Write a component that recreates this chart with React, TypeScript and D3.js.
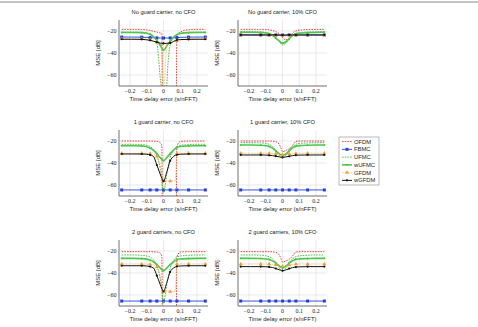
import * as d3 from 'd3'

const W = 478
const H = 327

// time delay error grid (s/nFFT) and the points that carry markers
const delay = [-0.25, -0.19, -0.13, -0.1, -0.08, -0.06, -0.04, -0.02, -0.01, 0, 0.02, 0.04, 0.06, 0.07, 0.08, 0.1, 0.15, 0.2, 0.25]
const markIdx = [0, 2, 4, 6, 9, 11, 14, 16, 18]
const xTicks = [-0.2, -0.1, 0, 0.1, 0.2]
const yTicks = [-20, -40, -60]
const seriesNames = ['OFDM', 'FBMC', 'UFMC', 'wUFMC', 'GFDM', 'wGFDM']
const panelTitles = [
  'No guard carrier, no CFO',
  'No guard carrier, 10% CFO',
  '1 guard carrier, no CFO',
  '1 guard carrier, 10% CFO',
  '2 guard carriers, no CFO',
  '2 guard carriers, 10% CFO',
]

// MSE [dB]; -300 stands for "perfect" (off the bottom of the axis)
const A_OFDM = [-18.5, -18.5, -18.6, -19, -19.5, -20.3, -21, -21.8, -22.3, -300, -300, -300, -300, -300, -23.5, -21, -18.8, -18.5, -18.5]
const A_FBMC = [-25.5, -25.5, -25.6, -25.8, -26, -26.2, -26.3, -26.4, -26.4, -26.4, -26.4, -26.3, -26.2, -26.1, -26, -25.8, -25.6, -25.5, -25.5]
const A_UFMC = [-21, -21, -21.3, -22, -23, -25.5, -31, -62, -80, -300, -70, -33, -26, -24.5, -23.5, -22.3, -21.3, -21, -21]
const A_wUFMC = [-21.3, -21.3, -21.5, -22, -23, -25, -28.5, -33, -35.5, -37.5, -33.5, -29, -25.5, -24.3, -23.3, -22.3, -21.5, -21.3, -21.3]
const A_GFDM = [-27, -27, -27.2, -27.5, -28, -29, -30, -31, -35, -80, -32, -31, -30, -29.5, -29, -28, -27.3, -27, -27]
const A_wGFDM = [-27.5, -27.5, -27.6, -28, -28.5, -29.3, -30.2, -31, -31.2, -31.3, -31.2, -30.8, -29.5, -28.7, -28.2, -27.8, -27.6, -27.5, -27.5]

const B_OFDM = [-18.5, -18.5, -18.5, -18.7, -19, -19.6, -20.5, -22.5, -24, -26, -28, -27, -22, -20.5, -20, -19.3, -18.7, -18.5, -18.5]
const B_FBMC = [-23.6, -23.6, -23.6, -23.6, -23.6, -23.6, -23.6, -23.7, -23.7, -23.7, -23.7, -23.6, -23.6, -23.6, -23.6, -23.6, -23.6, -23.6, -23.6]
const B_UFMC = [-20.6, -20.6, -20.8, -21.3, -22, -23.5, -26, -29.5, -31.5, -32.7, -31, -27.5, -24, -23, -22.2, -21.5, -21, -20.7, -20.6]
const B_wUFMC = [-21.2, -21.2, -21.4, -21.8, -22.5, -24, -26.5, -29, -30.3, -31.2, -29.8, -27, -24.3, -23.3, -22.6, -22, -21.5, -21.3, -21.2]
const B_GFDM = [-23.8, -23.8, -23.8, -23.8, -23.8, -23.8, -23.9, -24, -24, -24.1, -24, -23.9, -23.8, -23.8, -23.8, -23.8, -23.8, -23.8, -23.8]
const B_wGFDM = [-23.6, -23.6, -23.6, -23.6, -23.6, -23.6, -23.6, -23.7, -23.7, -23.7, -23.7, -23.6, -23.6, -23.6, -23.6, -23.6, -23.6, -23.6, -23.6]

const C_OFDM = [-20, -20, -20, -20, -20, -20.1, -20.3, -21.5, -24, -300, -300, -300, -300, -300, -25, -20.5, -20, -20, -20]
const C_FBMC = [-64.5, -64.5, -64.5, -64.5, -64.5, -64.5, -64.5, -64.5, -64.5, -64.5, -64.5, -64.5, -64.5, -64.5, -64.5, -64.5, -64.5, -64.5, -64.5]
const C_UFMC = [-23, -23, -23.3, -24, -25, -27.5, -33, -45, -55, -67, -50, -35, -28, -26, -25, -24, -23.3, -23, -23]
const C_wUFMC = [-24.3, -24.3, -24.6, -25.3, -26.5, -28.5, -31.5, -35, -36.7, -37.9, -35, -31.5, -28.3, -27, -26, -25, -24.5, -24.3, -24.3]
const C_GFDM = [-31.2, -31.2, -31.2, -31.3, -31.5, -32, -34, -42, -50, -56.4, -56.4, -56.4, -56.4, -56.4, -31.5, -31.2, -31.2, -31.2, -31.2]
const C_wGFDM = [-31.8, -31.8, -31.8, -32, -32.7, -34, -41.8, -50, -54, -56.5, -48, -38, -34, -33, -32.5, -32, -31.8, -31.8, -31.8]

const D_OFDM = [-20, -20, -20, -20, -20, -20.2, -20.6, -23, -26, -29.7, -28.5, -27, -24, -22, -20.5, -20, -20, -20, -20]
const D_FBMC = [-64.5, -64.5, -64.5, -64.5, -64.5, -64.5, -64.5, -64.5, -64.5, -64.5, -64.5, -64.5, -64.5, -64.5, -64.5, -64.5, -64.5, -64.5, -64.5]
const D_UFMC = [-21.5, -21.5, -21.7, -22.2, -23, -25, -28.5, -33, -35, -35.5, -33, -28.5, -25, -24, -23, -22.3, -21.8, -21.5, -21.5]
const D_wUFMC = [-23.6, -23.6, -23.8, -24.2, -25, -26.5, -29, -31.5, -32.5, -33, -31.8, -29, -26.3, -25.5, -24.8, -24.2, -23.8, -23.6, -23.6]
const D_GFDM = [-31.2, -31.2, -31.2, -31.2, -31.3, -31.4, -31.6, -31.9, -32.1, -32.3, -32, -31.7, -31.5, -31.4, -31.3, -31.2, -31.2, -31.2, -31.2]
const D_wGFDM = [-32.7, -32.7, -32.7, -32.8, -33, -33.3, -33.8, -34.4, -34.7, -34.8, -34.5, -33.9, -33.3, -33.1, -32.9, -32.8, -32.7, -32.7, -32.7]

const E_OFDM = [-20.6, -20.6, -20.6, -20.6, -20.6, -20.7, -20.9, -22, -24.5, -300, -300, -300, -300, -300, -25.5, -21, -20.6, -20.6, -20.6]
const E_FBMC = [-65.5, -65.5, -65.5, -65.5, -65.5, -65.5, -65.5, -65.5, -65.5, -65.5, -65.5, -65.5, -65.5, -65.5, -65.5, -65.5, -65.5, -65.5, -65.5]
const E_UFMC = [-23.6, -23.6, -23.9, -24.5, -25.5, -28, -33.5, -45, -55, -67, -50, -35.5, -28.5, -26.5, -25.5, -24.6, -23.9, -23.6, -23.6]
const E_wUFMC = [-26.7, -26.7, -26.9, -27.4, -28.3, -29.8, -32.3, -35.3, -36.8, -37.9, -35.3, -32.3, -29.8, -28.8, -28, -27.3, -26.9, -26.7, -26.7]
const E_GFDM = [-31.8, -31.8, -31.8, -31.9, -32.1, -32.6, -34.5, -42.5, -50.5, -56.8, -56.8, -56.8, -56.8, -56.8, -32, -31.8, -31.8, -31.8, -31.8]
const E_wGFDM = [-33.4, -33.4, -33.4, -33.6, -34.2, -35.4, -42.3, -50.3, -54.3, -56.8, -48.5, -39, -35.4, -34.5, -34, -33.6, -33.4, -33.4, -33.4]

const F_OFDM = [-20.6, -20.6, -20.6, -20.6, -20.6, -20.8, -21.2, -23.5, -26.5, -30, -29, -27.5, -24.5, -22.5, -21, -20.6, -20.6, -20.6, -20.6]
const F_FBMC = [-65.5, -65.5, -65.5, -65.5, -65.5, -65.5, -65.5, -65.5, -65.5, -65.5, -65.5, -65.5, -65.5, -65.5, -65.5, -65.5, -65.5, -65.5, -65.5]
const F_UFMC = [-23.6, -23.6, -23.8, -24.3, -25.2, -27, -30.5, -35, -37.3, -38.3, -35.5, -30.5, -27, -26, -25.2, -24.5, -23.9, -23.6, -23.6]
const F_wUFMC = [-26.7, -26.7, -26.8, -27.2, -27.8, -29, -31, -33.4, -34.5, -35.3, -33.8, -31, -28.8, -28.1, -27.6, -27.2, -26.9, -26.7, -26.7]
const F_GFDM = [-31.8, -31.8, -31.8, -31.8, -31.9, -32.1, -32.6, -33.3, -33.7, -34, -33.5, -32.8, -32.2, -32, -31.9, -31.8, -31.8, -31.8, -31.8]
const F_wGFDM = [-34.2, -34.2, -34.2, -34.3, -34.5, -35, -35.9, -37, -37.5, -37.9, -37.2, -36, -35.1, -34.8, -34.6, -34.4, -34.2, -34.2, -34.2]

const panelData = [
  [A_OFDM, A_FBMC, A_UFMC, A_wUFMC, A_GFDM, A_wGFDM],
  [B_OFDM, B_FBMC, B_UFMC, B_wUFMC, B_GFDM, B_wGFDM],
  [C_OFDM, C_FBMC, C_UFMC, C_wUFMC, C_GFDM, C_wGFDM],
  [D_OFDM, D_FBMC, D_UFMC, D_wUFMC, D_GFDM, D_wGFDM],
  [E_OFDM, E_FBMC, E_UFMC, E_wUFMC, E_GFDM, E_wGFDM],
  [F_OFDM, F_FBMC, F_UFMC, F_wUFMC, F_GFDM, F_wGFDM],
]

const styles = [
  { color: '#e63030', width: 0.9, dash: '1.6 1.1', mark: null },
  { color: '#2140dd', width: 0.9, dash: null, mark: 'square' },
  { color: '#3cb43c', width: 0.9, dash: '1.6 1.1', mark: null },
  { color: '#4cc64c', width: 1.6, dash: null, mark: 'dot' },
  { color: '#f29d2c', width: 0.9, dash: '0.6 0.9', mark: 'triangle' },
  { color: '#111111', width: 1.0, dash: null, mark: 'circle' },
]

const colLeft = [119, 238]
const rowTop = [20, 130, 240]
const plotW = 89
const plotH = 66
const sans = '"Liberation Sans", Arial, sans-serif'
const serif = '"Liberation Serif", "DejaVu Serif", serif'

function Marker({ kind, cx, cy, color }: { kind: string | null; cx: number; cy: number; color: string }) {
  if (kind === 'square') return <rect x={cx - 1.5} y={cy - 1.5} width={3} height={3} fill={color} />
  if (kind === 'dot') return <circle cx={cx} cy={cy} r={1} fill={color} />
  if (kind === 'circle') return <circle cx={cx} cy={cy} r={1.1} fill={color} />
  if (kind === 'triangle') {
    const d = d3.symbol().type(d3.symbolTriangle).size(7)() as string
    return <path d={d} transform={`translate(${cx},${cy})`} fill={color} />
  }
  return null
}

function Panel({ idx }: { idx: number }) {
  const left = colLeft[idx % 2]
  const top = rowTop[Math.floor(idx / 2)]
  const x = d3.scaleLinear().domain([-0.266, 0.266]).range([left, left + plotW])
  const y = d3.scaleLinear().domain([-70, -10]).range([top + plotH, top])
  const line = d3
    .line<number>()
    .x((_, i) => x(delay[i]))
    .y((d) => y(Math.max(d, -300)))
    .curve(d3.curveMonotoneX)
  const clipId = `clip${idx}`
  const fmt = (v: number) => (v < 0 ? '\u2212' + Math.abs(v) : String(v))
  return (
    <g>
      <defs>
        <clipPath id={clipId}>
          <rect x={left} y={top} width={plotW} height={plotH} />
        </clipPath>
      </defs>
      {xTicks.map((t) => (
        <line key={'gx' + t} x1={x(t)} x2={x(t)} y1={top} y2={top + plotH} stroke="#dcdcdc" strokeWidth={0.6} />
      ))}
      {yTicks.map((t) => (
        <line key={'gy' + t} x1={left} x2={left + plotW} y1={y(t)} y2={y(t)} stroke="#dcdcdc" strokeWidth={0.6} />
      ))}
      <g clipPath={`url(#${clipId})`}>
        {panelData[idx].map((vals, s) => (
          <g key={s}>
            <path
              d={line(vals) as string}
              fill="none"
              stroke={styles[s].color}
              strokeWidth={styles[s].width}
              strokeDasharray={styles[s].dash ?? undefined}
            />
            {markIdx
              .filter((i) => vals[i] > -70)
              .map((i) => (
                <Marker key={i} kind={styles[s].mark} cx={x(delay[i])} cy={y(vals[i])} color={styles[s].color} />
              ))}
          </g>
        ))}
      </g>
      <line x1={left} x2={left} y1={top} y2={top + plotH} stroke="#333" strokeWidth={0.7} />
      <line x1={left} x2={left + plotW} y1={top + plotH} y2={top + plotH} stroke="#333" strokeWidth={0.7} />
      {xTicks.map((t) => (
        <text key={'tx' + t} x={x(t)} y={top + plotH + 6.5} fontFamily={serif} fontSize={6} textAnchor="middle" fill="#222">
          {fmt(t)}
        </text>
      ))}
      {yTicks.map((t) => (
        <text key={'ty' + t} x={left - 2.5} y={y(t)} dy="0.33em" fontFamily={serif} fontSize={6} textAnchor="end" fill="#222">
          {fmt(t)}
        </text>
      ))}
      <text x={left + plotW / 2} y={top + plotH + 15} fontFamily={sans} fontSize={6} textAnchor="middle" fill="#222">
        Time delay error (s/nFFT)
      </text>
      <text
        transform={`translate(${left - 21},${top + plotH / 2}) rotate(-90)`}
        dy="0.35em"
        fontFamily={sans}
        fontSize={6}
        textAnchor="middle"
        fill="#222"
      >
        MSE [dB]
      </text>
      <text x={left + plotW / 2} y={top - 6.5} fontFamily={sans} fontSize={5.7} textAnchor="middle" fill="#222">
        {panelTitles[idx]}
      </text>
    </g>
  )
}

function Legend() {
  const lx = 339
  const ly = 137
  const step = 7.75
  return (
    <g>
      <rect x={lx} y={ly} width={40} height={48} fill="#fff" stroke="#8a8a8a" strokeWidth={0.6} />
      {seriesNames.map((name, i) => {
        const cy = ly + 4.6 + i * step
        const st = styles[i]
        return (
          <g key={name}>
            <line
              x1={lx + 3}
              x2={lx + 13}
              y1={cy}
              y2={cy}
              stroke={st.color}
              strokeWidth={st.width}
              strokeDasharray={st.dash ?? undefined}
            />
            <Marker kind={st.mark} cx={lx + 8} cy={cy} color={st.color} />
            <text x={lx + 15} y={cy} dy="0.35em" fontFamily={sans} fontSize={5.8} fill="#222">
              {name}
            </text>
          </g>
        )
      })}
    </g>
  )
}

export default function App() {
  return (
    <svg
      width={W}
      height={H}
      viewBox={`0 0 ${W} ${H}`}
      style={{ position: 'absolute', left: 0, top: 0, background: '#fff' }}
    >
      <rect x={0} y={0} width={W} height={H} fill="#fff" />
      <line x1={0} x2={W} y1={2} y2={2} stroke="#888" strokeWidth={1} />
      {panelTitles.map((_, i) => (
        <Panel key={i} idx={i} />
      ))}
      <Legend />
    </svg>
  )
}
